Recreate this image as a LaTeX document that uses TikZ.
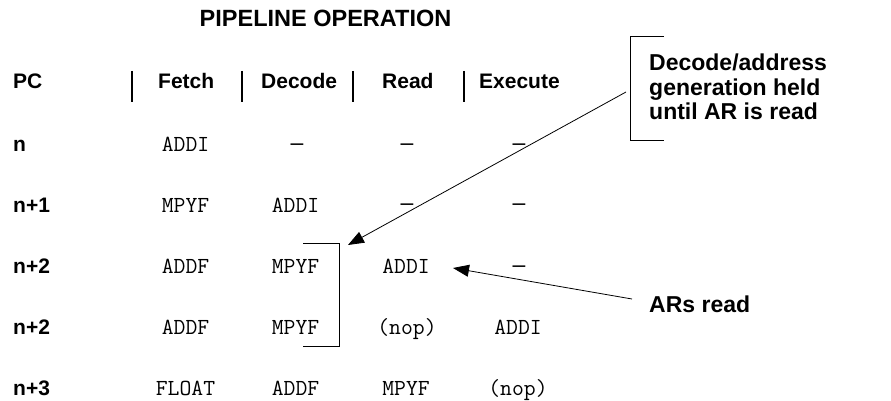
\documentclass[tikz,border=0pt]{standalone}
\usepackage{fontspec}
\setmainfont{Liberation Sans}
\usetikzlibrary{arrows.meta}
\tikzset{
  hdr/.style={font=\fontsize{21}{24}\selectfont\bfseries, anchor=base west, inner sep=0pt},
  cell/.style={font=\fontsize{23}{26}\selectfont\ttfamily, anchor=base, inner sep=0pt},
  dsh/.style={font=\fontsize{23}{26}\selectfont, anchor=base, inner sep=0pt},
  callout/.style={font=\fontsize{23}{24.3}\selectfont\bfseries, inner sep=0pt, align=left},
  sep/.style={line width=2.2pt},
  brk/.style={line width=0.9pt},
  arr/.style={line width=0.8pt, -{Triangle[length=16pt,width=12pt]}}
}
\begin{document}
\begin{tikzpicture}[x=1pt,y=-1pt]
\useasboundingbox (0,0) rectangle (891,401);
\node[font=\fontsize{23.5}{26}\selectfont\bfseries, anchor=base, inner sep=0pt] (title) at (325.5,27) {PIPELINE OPERATION};
% header
\node[hdr] (pc) at (13,89) {PC};
\node[hdr] (fetch) at (158,89) {Fetch};
\node[hdr] (decode) at (261,89) {Decode};
\node[hdr] (read) at (382,89) {Read};
\node[hdr] (exec) at (479,89) {Execute};
\foreach \x in {132,242,353,464} \draw[sep] (\x,71) -- (\x,102);
% row labels
\node[hdr] (r1) at (13,151) {n};
\node[hdr] (r2) at (13,212) {n+1};
\node[hdr] (r3) at (13,273) {n+2};
\node[hdr] (r4) at (13,334) {n+2};
\node[hdr] (r5) at (13,395) {n+3};
% row n
\node[cell] (c11) at (185.5,151) {ADDI};
\node[dsh] (c12) at (297,150) {–};
\node[dsh] (c13) at (407,150) {–};
\node[dsh] (c14) at (519,150) {–};
% row n+1
\node[cell] (c21) at (185.5,212) {MPYF};
\node[cell] (c22) at (295.5,212) {ADDI};
\node[dsh] (c23) at (407,210) {–};
\node[dsh] (c24) at (519,210) {–};
% row n+2
\node[cell] (c31) at (185.5,273) {ADDF};
\node[cell] (c32) at (295.5,273) {MPYF};
\node[cell] (c33) at (406,273) {ADDI};
\node[dsh] (c34) at (519,272) {–};
% row n+2
\node[cell] (c41) at (185.5,334) {ADDF};
\node[cell] (c42) at (295.5,334) {MPYF};
\node[cell] (c43) at (407,334) {(nop)};
\node[cell] (c44) at (518,334) {ADDI};
% row n+3
\node[cell] (c51) at (185.5,395) {FLOAT};
\node[cell] (c52) at (295.5,395) {ADDF};
\node[cell] (c53) at (406,395) {MPYF};
\node[cell] (c54) at (518,395) {(nop)};
% middle bracket
\draw[brk] (303,243) -- (339,243) -- (339,346) -- (303,346);
% callout bracket and text
\draw[brk] (664,36) -- (630,36) -- (630,140) -- (664,140);
\node[callout, anchor=north west] (note) at (649,54) {Decode/address\\generation held\\until AR is read};
\node[callout, anchor=base west] (ars) at (649,312) {ARs read};
% arrows
\coordinate (a1s) at (626,92);
\coordinate (a1e) at (348,245);
\coordinate (a2s) at (632,299);
\coordinate (a2e) at (453,268);
\draw[arr] (a1s) -- (a1e);
\draw[arr] (a2s) -- (a2e);
\end{tikzpicture}
\end{document}
